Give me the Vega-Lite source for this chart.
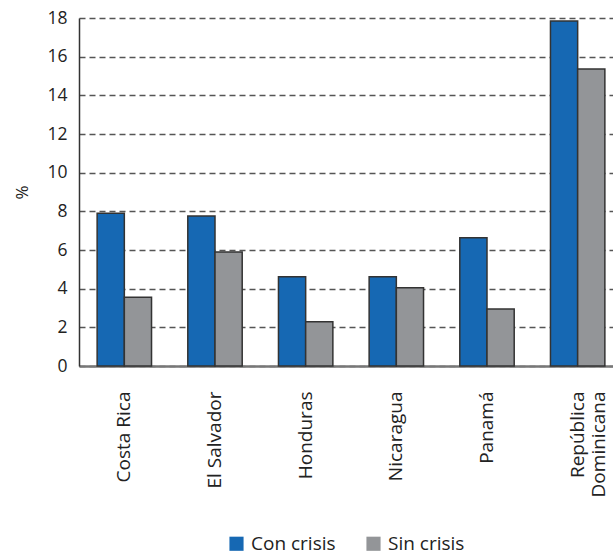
{
  "$schema": "https://vega.github.io/schema/vega-lite/v6.json",
  "autosize": "none",
  "width": 544,
  "height": 348,
  "padding": {"left": 79, "top": 18, "right": 0, "bottom": 192},
  "background": "white",
  "config": {
    "font": "Open Sans",
    "view": {"stroke": null}
  },
  "data": {
    "values": [
      {"pais": "Costa Rica", "serie": "Con crisis", "valor": 7.9},
      {"pais": "Costa Rica", "serie": "Sin crisis", "valor": 3.55},
      {"pais": "El Salvador", "serie": "Con crisis", "valor": 7.76},
      {"pais": "El Salvador", "serie": "Sin crisis", "valor": 5.9},
      {"pais": "Honduras", "serie": "Con crisis", "valor": 4.62},
      {"pais": "Honduras", "serie": "Sin crisis", "valor": 2.29},
      {"pais": "Nicaragua", "serie": "Con crisis", "valor": 4.62},
      {"pais": "Nicaragua", "serie": "Sin crisis", "valor": 4.05},
      {"pais": "Panamá", "serie": "Con crisis", "valor": 6.64},
      {"pais": "Panamá", "serie": "Sin crisis", "valor": 2.95},
      {"pais": "República Dominicana", "serie": "Con crisis", "valor": 17.85},
      {"pais": "República Dominicana", "serie": "Sin crisis", "valor": 15.36}
    ]
  },
  "mark": {"type": "bar", "stroke": "#333333", "strokeWidth": 1.5},
  "encoding": {
    "x": {
      "field": "pais",
      "type": "nominal",
      "sort": null,
      "scale": {"paddingInner": 0.4, "paddingOuter": 0.2},
      "axis": {
        "title": null,
        "labelAngle": -90,
        "labelAlign": "right",
        "labelBaseline": "middle",
        "labelFontSize": 19,
        "labelLineHeight": 21,
        "labelColor": "#222222",
        "labelPadding": 25,
        "ticks": false,
        "domainColor": "#777777",
        "domainWidth": 2.5,
        "labelExpr": "datum.value == 'República Dominicana' ? ['República', 'Dominicana'] : datum.value"
      }
    },
    "xOffset": {
      "field": "serie",
      "type": "nominal",
      "scale": {"paddingInner": 0, "paddingOuter": 0}
    },
    "y": {
      "field": "valor",
      "type": "quantitative",
      "scale": {"domain": [0, 18]},
      "axis": {
        "title": "%",
        "titleFontWeight": "normal",
        "titleFontSize": 17,
        "titleColor": "#222222",
        "titlePadding": 15,
        "values": [0, 2, 4, 6, 8, 10, 12, 14, 16, 18],
        "labelFontSize": 17.5,
        "labelColor": "#222222",
        "labelPadding": 12,
        "ticks": false,
        "domainColor": "#333333",
        "domainWidth": 1.5,
        "gridColor": "#555555",
        "gridDash": [6, 4],
        "gridWidth": 1.3
      }
    },
    "color": {
      "field": "serie",
      "type": "nominal",
      "scale": {"domain": ["Con crisis", "Sin crisis"], "range": ["#1668b3", "#939598"]},
      "legend": {
        "title": null,
        "orient": "none",
        "direction": "horizontal",
        "legendX": 148,
        "legendY": 516,
        "symbolType": "square",
        "symbolSize": 200,
        "symbolStrokeWidth": 0,
        "labelFontSize": 19,
        "labelColor": "#222222",
        "labelOffset": 5,
        "columnPadding": 28
      }
    }
  }
}
